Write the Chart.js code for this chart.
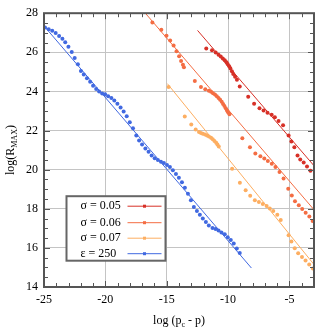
<!DOCTYPE html>
<html>
<head>
<meta charset="utf-8">
<script src="https://cdn.jsdelivr.net/npm/chart.js@4"></script>
<style>
  html, body { margin: 0; padding: 0; background: #fff; }
  #wrap { width: 332px; height: 332px; }
</style>
</head>
<body>
<div id="wrap"><canvas id="c"></canvas></div>
<script>
// ticks
const xTicks = [-25, -20, -15, -10, -5]
const yTicks = [14, 16, 18, 20, 22, 24, 26, 28]

// series names / colours (legend order)
const names = ["σ = 0.05", "σ = 0.06", "σ = 0.07", "ε = 250"]
const colors = ["#d73027", "#f46d43", "#fdae61", "#4169e1"]

// σ = 0.05
const s05X = [-11.78, -11.31, -11.01, -10.78, -10.60, -10.43, -10.27, -10.13, -10.03, -9.91, -9.81, -9.69, -9.58, -9.43, -9.28, -9.05, -8.36, -7.88, -7.44, -7.11, -6.79, -6.45, -6.19, -5.89, -5.52, -5.07, -4.84, -4.60, -4.34, -4.12, -3.84, -3.57, -3.29]
const s05Y = [26.19, 26.11, 25.99, 25.88, 25.79, 25.69, 25.59, 25.49, 25.39, 25.29, 25.17, 25.03, 24.89, 24.75, 24.60, 24.25, 23.73, 23.37, 23.14, 23.02, 22.91, 22.81, 22.68, 22.49, 22.27, 21.75, 21.44, 21.15, 20.72, 20.52, 20.36, 20.16, 19.95]
const fit05X = [-12.49, -3]
const fit05Y = [27.12, 20.2]

// σ = 0.06
const s06X = [-16.17, -15.44, -15.02, -14.72, -14.44, -14.20, -13.99, -13.83, -13.68, -13.60, -12.71, -12.21, -11.86, -11.57, -11.39, -11.23, -11.07, -10.92, -10.78, -10.65, -10.52, -10.41, -10.30, -10.19, -10.09, -10.00, -9.89, -8.84, -8.22, -7.78, -7.37, -7.05, -6.76, -6.44, -6.14, -5.81, -5.48, -5.10, -4.81, -4.55, -4.24, -3.96, -3.68, -3.38, -3.11]
const s06Y = [27.52, 27.15, 26.85, 26.60, 26.35, 26.05, 25.80, 25.56, 25.37, 25.23, 24.53, 24.23, 24.11, 24.03, 23.98, 23.91, 23.84, 23.75, 23.66, 23.57, 23.47, 23.36, 23.25, 23.14, 23.03, 22.93, 22.83, 21.60, 21.15, 20.83, 20.69, 20.57, 20.44, 20.30, 20.13, 19.88, 19.55, 19.03, 18.68, 18.38, 18.18, 17.99, 17.80, 17.60, 17.38]
const fit06X = [-16.74, -3]
const fit06Y = [28, 17.95]

// σ = 0.07
const s07X = [-14.85, -13.53, -13.00, -12.64, -12.37, -12.21, -12.06, -11.88, -11.72, -11.56, -11.39, -11.25, -11.11, -10.97, -10.87, -10.76, -9.67, -9.04, -8.57, -8.20, -7.82, -7.49, -7.17, -6.86, -6.60, -6.32, -5.99, -5.71, -5.07, -4.84, -4.57, -4.29, -3.98, -3.69, -3.39, -3.09]
const s07Y = [24.23, 22.72, 22.31, 22.05, 21.92, 21.88, 21.84, 21.80, 21.75, 21.69, 21.63, 21.55, 21.47, 21.38, 21.28, 21.18, 20.05, 19.33, 18.95, 18.67, 18.44, 18.34, 18.25, 18.14, 18.02, 17.88, 17.69, 17.43, 16.64, 16.33, 15.98, 15.73, 15.53, 15.35, 15.15, 14.94]
const fit07X = [-14.95, -3]
const fit07Y = [24.4, 15.15]

// ε = 250
const epsX = [-24.92, -24.62, -24.33, -24.05, -23.77, -23.50, -23.27, -23.01, -22.74, -22.50, -22.24, -21.99, -21.76, -21.50, -21.24, -21.00, -20.75, -20.51, -20.26, -20.02, -19.77, -19.51, -19.27, -19.02, -18.76, -18.51, -18.26, -18.01, -17.75, -17.48, -17.25, -17.01, -16.74, -16.48, -16.23, -15.98, -15.72, -15.47, -15.23, -14.98, -14.74, -14.50, -14.25, -14.01, -13.76, -13.52, -13.27, -13.03, -12.79, -12.54, -12.30, -12.06, -11.81, -11.57, -11.27, -11.02, -10.78, -10.54, -10.27, -10.03, -9.78, -9.54, -9.29, -9.05]
const epsY = [27.27, 27.18, 27.10, 26.99, 26.84, 26.69, 26.51, 26.28, 26.02, 25.71, 25.39, 25.04, 24.87, 24.68, 24.49, 24.29, 24.13, 23.99, 23.90, 23.85, 23.75, 23.66, 23.54, 23.37, 23.18, 22.97, 22.73, 22.43, 22.12, 21.75, 21.49, 21.28, 21.08, 20.92, 20.73, 20.58, 20.49, 20.41, 20.34, 20.24, 20.14, 19.97, 19.78, 19.59, 19.35, 19.07, 18.77, 18.43, 18.09, 17.89, 17.70, 17.50, 17.32, 17.15, 17.02, 16.97, 16.89, 16.79, 16.70, 16.55, 16.40, 16.22, 15.97, 15.74]
const fitEpsX = [-25, -8.1]
const fitEpsY = [27.35, 14.97]

const FONT = "'Liberation Serif', 'DejaVu Serif', serif"

const zip = (xs, ys) => xs.map((x, i) => ({ x, y: ys[i] }))

const pointsSet = (i, xs, ys) => ({
  label: names[i],
  data: zip(xs, ys),
  backgroundColor: colors[i],
  borderWidth: 0,
  pointRadius: 2,
  showLine: false
})

const fitSet = (i, xs, ys) => ({
  label: names[i] + " fit",
  data: zip(xs, ys),
  borderColor: colors[i],
  borderWidth: 1,
  pointRadius: 0,
  showLine: true
})

// legend in the lower left of the plot, label left and sample right
const boxLegend = {
  id: "boxLegend",
  afterDatasetsDraw(chart) {
    const { ctx, chartArea: a } = chart
    const left = a.left + 22.5, top = a.top + 183, w = 99, h = 64.5
    ctx.save()
    ctx.fillStyle = "#fff"
    ctx.fillRect(left, top, w, h)
    ctx.strokeStyle = "#666"
    ctx.lineWidth = 2
    ctx.strokeRect(left, top, w, h)
    const rows = [10, 26.5, 42, 57.5]
    ctx.font = "12px " + FONT
    ctx.textBaseline = "middle"
    ctx.textAlign = "left"
    names.forEach((n, i) => {
      const yy = top + rows[i]
      ctx.fillStyle = "#000"
      ctx.fillText(n, left + 14, yy)
      ctx.strokeStyle = colors[i]
      ctx.lineWidth = 1
      ctx.beginPath()
      ctx.moveTo(left + 61, yy)
      ctx.lineTo(left + 95, yy)
      ctx.stroke()
      ctx.fillStyle = colors[i]
      ctx.fillRect(left + 76.5, yy - 1.5, 3, 3)
    })
    ctx.restore()
  }
}

// frame, inward minor ticks on all four sides, axis titles with subscripts
const frame = {
  id: "frame",
  afterDraw(chart) {
    const { ctx, chartArea: a, scales: { x, y } } = chart
    ctx.save()
    ctx.strokeStyle = "#555"
    ctx.lineWidth = 1
    const seg = (x1, y1, x2, y2) => { ctx.beginPath(); ctx.moveTo(x1, y1); ctx.lineTo(x2, y2); ctx.stroke() }
    for (let v = -25; v <= -3; v++) {
      const px = Math.round(x.getPixelForValue(v)) + 0.5
      const len = v % 5 === 0 ? 6 : 4
      seg(px, a.bottom, px, a.bottom - len)
      seg(px, a.top, px, a.top + len)
    }
    for (let v = 14; v <= 28; v += 0.5) {
      const py = Math.round(y.getPixelForValue(v)) + 0.5
      const len = v % 2 === 0 ? 6 : 4
      seg(a.left, py, a.left + len, py)
      seg(a.right, py, a.right - len, py)
    }
    ctx.lineWidth = 2
    ctx.strokeStyle = "#555"
    ctx.strokeRect(a.left, a.top, a.right - a.left, a.bottom - a.top)

    // axis titles
    ctx.fillStyle = "#000"
    ctx.textBaseline = "alphabetic"
    ctx.textAlign = "left"
    const big = "12px " + FONT, small = "8px " + FONT
    const drawParts = (parts, cx, cy) => {
      let total = 0
      parts.forEach(p => { ctx.font = p.sub ? small : big; total += ctx.measureText(p.t).width })
      let cur = cx - total / 2
      parts.forEach(p => {
        ctx.font = p.sub ? small : big
        ctx.fillText(p.t, cur, cy + (p.sub ? 3 : 0))
        cur += ctx.measureText(p.t).width
      })
    }
    drawParts([{ t: "log (p" }, { t: "c", sub: true }, { t: " - p)" }], (a.left + a.right) / 2, 324)
    ctx.save()
    ctx.translate(14, (a.top + a.bottom) / 2)
    ctx.rotate(-Math.PI / 2)
    drawParts([{ t: "log(R" }, { t: "MAX", sub: true }, { t: ")" }], 0, 0)
    ctx.restore()
    ctx.restore()
  }
}

new Chart(document.getElementById("c"), {
  type: "scatter",
  data: {
    datasets: [
      pointsSet(0, s05X, s05Y), fitSet(0, fit05X, fit05Y),
      pointsSet(1, s06X, s06Y), fitSet(1, fit06X, fit06Y),
      pointsSet(2, s07X, s07Y), fitSet(2, fit07X, fit07Y),
      pointsSet(3, epsX, epsY), fitSet(3, fitEpsX, fitEpsY)
    ]
  },
  options: {
    responsive: true,
    maintainAspectRatio: false,
    animation: false,
    layout: { padding: { left: 0, top: 7, right: 18, bottom: 0 } },
    plugins: { legend: { display: false }, tooltip: { enabled: false } },
    scales: {
      x: {
        type: "linear",
        min: -25,
        max: -3,
        afterFit: (s) => { s.height = 45 },
        afterBuildTicks: (s) => { s.ticks = xTicks.map(v => ({ value: v })) },
        border: { display: false },
        grid: { color: "#c4c4c4", lineWidth: 1, borderDash: [1, 2], drawTicks: false },
        ticks: { color: "#000", padding: 6, font: { family: FONT, size: 12 } }
      },
      y: {
        type: "linear",
        min: 14,
        max: 28,
        afterFit: (s) => { s.width = 44 },
        afterBuildTicks: (s) => { s.ticks = yTicks.map(v => ({ value: v })) },
        border: { display: false },
        grid: { color: "#c4c4c4", lineWidth: 1, borderDash: [1, 2], drawTicks: false },
        ticks: { color: "#000", padding: 6, font: { family: FONT, size: 12 } }
      }
    }
  },
  plugins: [boxLegend, frame]
})
</script>
</body>
</html>
